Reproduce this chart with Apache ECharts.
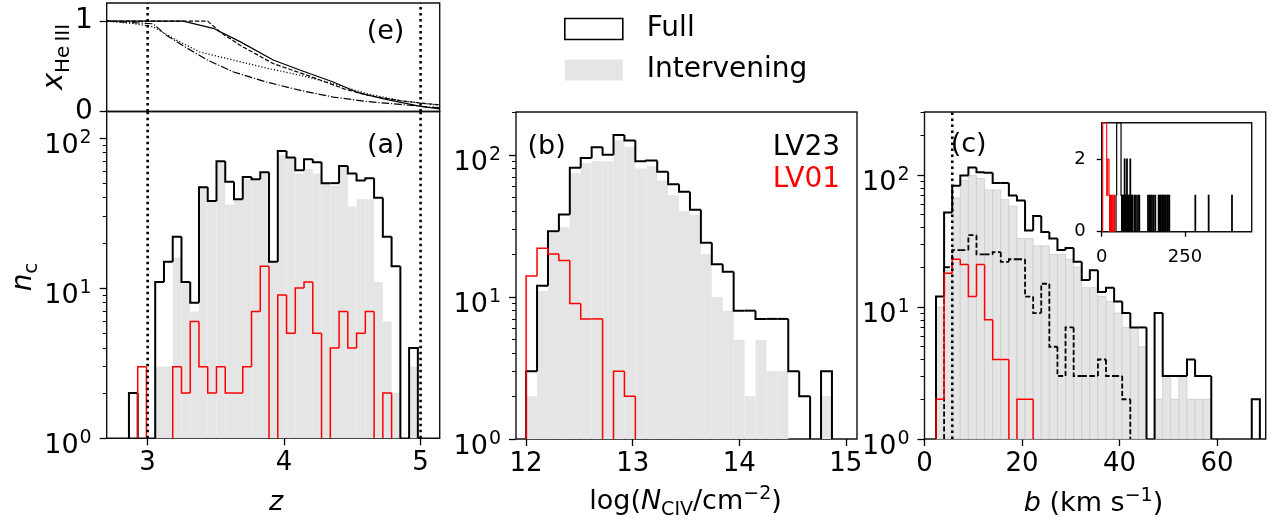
<!DOCTYPE html>
<html>
<head>
<meta charset="utf-8">
<script src="https://cdn.jsdelivr.net/npm/echarts@6/dist/echarts.min.js"></script>
<style>
html, body { margin: 0; padding: 0; background: #fff; }
#chart { width: 1273px; height: 522px; }
</style>
</head>
<body>
<div id="chart"></div>
<script>
// ---- data ----
// (e) He III fraction vs redshift, four models
var eSolidZ = [2.70, 3.26, 3.48, 3.68, 3.92, 4.12, 4.36, 4.53, 4.73, 5.00, 5.14];
var eSolidX = [1.00, 1.00, 0.92, 0.77, 0.57, 0.456, 0.326, 0.215, 0.14, 0.056, 0.03];
var eDashZ = [2.70, 3.44, 3.53, 3.68, 3.92, 4.17, 4.44, 4.61, 4.85, 5.00, 5.14];
var eDashX = [1.00, 1.00, 0.88, 0.73, 0.53, 0.40, 0.25, 0.18, 0.12, 0.093, 0.074];
var eDotZ = [2.70, 2.89, 3.04, 3.21, 3.38, 3.63, 3.87, 4.12, 4.36, 4.61, 4.85, 5.14];
var eDotX = [1.00, 0.974, 0.937, 0.79, 0.66, 0.567, 0.48, 0.40, 0.307, 0.196, 0.12, 0.067];
var eDashDotZ = [2.70, 3.04, 3.14, 3.29, 3.44, 3.63, 3.87, 4.12, 4.36, 4.61, 4.85, 5.14];
var eDashDotX = [1.00, 0.97, 0.84, 0.70, 0.567, 0.437, 0.326, 0.233, 0.16, 0.11, 0.078, 0.04];

// (a) redshift histograms
var zBinStart = 2.863, zBinWidth = 0.06415;
var zFull  = [2,0,0,11,15,22,11,8,47,38,70,51,39,55,53,59,15,82,74,61,72,69,50,50,65,58,52,54,40,22,14,0,4];
var zInter = [0,0,0,3,3,16,11,7,47,38,70,36,39,53,53,59,15,77,74,58,62,58,50,48,65,35,39,39,11,6,2,0,3];
var zLV01  = [0,3,0,0,0,3,2,6,3,2,3,2,2,3,7,14,0,9,5,10,11,5,0,4,7,4,5,7,0,2,0,0,0];
var zMarks = [3, 5];

// (b) column density histograms
var nBinStart = 12.0, nBinWidth = 0.1025;
var nFull  = [3,12,29,38,81,95,113,100,138,126,90,91,76,62,55,41,24,17,15,8,8,7,7,7,3,2,0,3];
var nInter = [2,11,28,31,74,87,90,90,126,114,80,83,66,52,40,38,20,10,8,5,2,5,3,3,0,0,0,2];
var nLV01  = [14,22,20,18,9,7,7,0,3,2,0,0,0,0,0,0,0,0,0,0,0,0,0,0,0,0,0,0];

// (c) Doppler parameter histograms
var bBinStart = 2.36, bBinWidth = 1.661;
var bFull  = [12,52,83,99,114,105,104,87,87,70,64,38,49,37,33,27,28,22,16,19,13,14,11,9,7,7,0,9,3,3,3,4,3,3,0,0,0,0,0,2];
var bInter = [10,19,67,91,99,94,77,77,65,58,33,33,29,29,25,25,23,20,14,14,12,11,9,7,7,5,0,2,3,2,3,2,2,2,0,0,0,0,0,0];
var bLV01  = [2,18,23,21,12,21,8,4,4,0,2,2,0,0,0,0,0,0,0,0,0,0,0,0,0,0,0,0,0,0,0,0,0,0,0,0,0,0,0,0];
var bDash  = [0,20,27,27,35,25,25,26,22,23,23,12,9,15,5,3,7,3,3,3,4,3,3,2,0,0,0,0,0,0,0,0,0,0,0,0,0,0,0,0];
var bMarks = [5.7];

// (d) inset, tail of the b distribution
var dFullLo = [43,45,58,60,63,66,68,70,72,75,78,80,83,85,88,92,98,102,108,112,138,142,146,150,155,160,170,173,176,180,183,186,190,195,198,202,280,320,390];
var dFullHi = [45,58,59.7,61.7,64.7,67.7,69.7,71.7,73.7,76.7,79.7,81.7,84.7,86.7,89.7,93.7,99.7,103.7,109.7,113.7,139.7,143.7,147.7,151.7,156.7,161.7,171.7,174.7,177.7,181.7,184.7,187.7,191.7,196.7,199.7,203.7,281.7,321.7,391.7];
var dFullN  = [1,3,1,1,1,1,2,1,1,2,1,1,1,2,1,1,1,1,1,1,1,1,1,1,1,1,1,1,1,1,1,1,1,1,1,1,1,1,1];
var dLVLo = [3,15,18,22,25,29,33,37];
var dLVHi = [15,18,22,23.7,26.7,30.7,34.7,38.7];
var dLVN  = [3,1,2,1,1,1,1,1];

var minorTicks = [2,3,4,5,6,7,8,9,20,30,40,50,60,70,80,90,200,300];

// ---- helpers ----
var F = 'DejaVu Sans';
var RED = '#ff0000', GRAY = '#e5e5e5';

function bins(start, width, counts) {
  return counts.map(function (c, i) { return [start + i * width, start + (i + 1) * width, c]; });
}
function sparseBins(lo, hi, n) {
  return lo.map(function (v, i) { return [v, hi[i], n[i]]; });
}

function fillSeries(name, xi, yi, data, base, stroke, z) {
  return {
    type: 'custom', name: name, xAxisIndex: xi, yAxisIndex: yi, z: z || 2,
    data: data, encode: { x: [0, 1], y: 2 },
    itemStyle: { color: GRAY },
    renderItem: function (params, api) {
      var n = api.value(2);
      if (!(n > base)) return null;
      var p0 = api.coord([api.value(0), base]);
      var p1 = api.coord([api.value(1), n]);
      return {
        type: 'rect',
        shape: { x: p0[0], y: p1[1], width: p1[0] - p0[0], height: p0[1] - p1[1] },
        style: { fill: GRAY, stroke: stroke || null, lineWidth: stroke ? 0.8 : 0 }
      };
    }
  };
}

function stepSeries(name, xi, yi, data, base, color, width, dash, z) {
  return {
    type: 'custom', name: name, xAxisIndex: xi, yAxisIndex: yi, z: z || 3,
    data: data, encode: { x: [0, 1], y: 2 },
    itemStyle: { color: color },
    renderItem: function (params, api) {
      var i = params.dataIndex, b = data[i];
      var clamp = function (v) { return Math.max(v, base); };
      var prev = (i > 0 && Math.abs(data[i - 1][1] - b[0]) < 1e-6) ? data[i - 1][2] : base;
      var nextAdj = i < data.length - 1 && Math.abs(data[i + 1][0] - b[1]) < 1e-6;
      var pts = [api.coord([b[0], clamp(prev)]), api.coord([b[0], clamp(b[2])])];
      if (b[2] > base) {
        pts.push(api.coord([b[1], clamp(b[2])]));
        if (!nextAdj) pts.push(api.coord([b[1], base]));
      } else if (clamp(prev) <= base) {
        return null;
      }
      return {
        type: 'polyline', shape: { points: pts },
        style: { fill: 'none', stroke: color, lineWidth: width, lineDash: dash || null, lineCap: 'butt', lineJoin: 'miter' }
      };
    }
  };
}

function curve(xs, ys, dash) {
  return {
    type: 'line', xAxisIndex: 0, yAxisIndex: 0, showSymbol: false, symbol: 'none', z: 3,
    data: xs.map(function (x, i) { return [x, ys[i]]; }),
    lineStyle: { color: '#000', width: 1.2, type: dash }
  };
}

function vline(xi, yi, x, y0, y1) {
  return {
    type: 'line', xAxisIndex: xi, yAxisIndex: yi, showSymbol: false, symbol: 'none', z: 6,
    data: [[x, y0], [x, y1]],
    lineStyle: { color: '#000', width: 2.6, type: [2.6, 3.4], cap: 'butt' }
  };
}

var tickStyle = { color: '#000', width: 1.3 };

function xAxisOf(gi, min, max, ticks, fs, z) {
  var has = ticks.length > 0;
  return {
    type: 'value', gridIndex: gi, min: min, max: max, z: z || 0,
    axisLine: { show: false }, splitLine: { show: false },
    axisTick: { show: has, customValues: has ? ticks : undefined, length: fs < 20 ? 5 : 7, lineStyle: tickStyle },
    axisLabel: { show: has, customValues: has ? ticks : undefined, margin: fs < 20 ? 17 : 12,
      fontSize: fs, fontFamily: F, color: '#000' }
  };
}

function yLinOf(gi, min, max, ticks, fs, margin, z) {
  return {
    type: 'value', gridIndex: gi, min: min, max: max, position: 'left', z: z || 0,
    axisLine: { show: false }, splitLine: { show: false },
    axisTick: { customValues: ticks, length: fs < 20 ? 5 : 7, lineStyle: tickStyle },
    axisLabel: { customValues: ticks, margin: margin, fontSize: fs, fontFamily: F, color: '#000' }
  };
}

function yLogMajor(gi, max) {
  return {
    type: 'log', logBase: 10, gridIndex: gi, min: 1, max: max, position: 'left',
    axisLine: { show: false }, splitLine: { show: false },
    axisTick: { customValues: [1, 10, 100], length: 7, lineStyle: tickStyle },
    axisLabel: {
      customValues: [1, 10, 100], margin: 15,
      formatter: function (v) { return '{b|10}{s|' + Math.round(Math.log(v) / Math.LN10) + '}'; },
      rich: {
        b: { fontSize: 27, fontFamily: F, color: '#000', lineHeight: 27, verticalAlign: 'top', padding: [8, 0, 0, 0] },
        s: { fontSize: 19, fontFamily: F, color: '#000', lineHeight: 19, verticalAlign: 'top', padding: [4, 0, 0, 1] }
      }
    }
  };
}

function yLogMinor(gi, max) {
  return {
    type: 'log', logBase: 10, gridIndex: gi, min: 1, max: max, position: 'left',
    axisLine: { show: false }, splitLine: { show: false },
    axisTick: { customValues: minorTicks.filter(function (v) { return v <= max; }), length: 4, lineStyle: { color: '#000', width: 1 } },
    axisLabel: { show: false }
  };
}

// text with sub/superscripts, laid out piece by piece on a common baseline
var mctx = document.createElement('canvas').getContext('2d');
function fontOf(p) { return (p.it ? 'italic ' : '') + p.s + 'px "' + F + '"'; }
function mathText(pieces, x, baseY, align, rot, color) {
  var total = 0;
  pieces.forEach(function (p) {
    mctx.font = fontOf(p);
    mctx.textBaseline = 'middle';
    p.w = mctx.measureText(p.t).width;
    p.mid = mctx.measureText('H').actualBoundingBoxDescent; // middle -> alphabetic baseline
    total += p.w;
  });
  var cx = align === 'center' ? -total / 2 : 0;
  var kids = pieces.map(function (p) {
    var el = {
      type: 'text', x: cx, y: (p.dy || 0) - p.mid,
      style: { text: p.t, font: fontOf(p), fill: color || '#000', align: 'left', verticalAlign: 'middle' }
    };
    cx += p.w;
    return el;
  });
  return { type: 'group', x: x, y: baseY, rotation: rot || 0, z: 20, children: kids };
}

var grids = [
  { left: 106.7, top: 3, width: 333, height: 108.5 },
  { left: 106.7, top: 111.5, width: 333, height: 326.8 },
  { left: 516, top: 112, width: 341, height: 327 },
  { left: 924.5, top: 112, width: 341.2, height: 327 },
  { left: 1101.7, top: 122.7, width: 150, height: 109, z: 10, backgroundColor: '#fff' }
].map(function (g) {
  return Object.assign({ show: true, borderColor: '#111', borderWidth: 1.4, containLabel: false, outerBoundsMode: 'none' }, g);
});

var series = [
  curve(eSolidZ, eSolidX, 'solid'),
  curve(eDashZ, eDashX, [4.4, 1.9]),
  curve(eDotZ, eDotX, [1.2, 2]),
  curve(eDashDotZ, eDashDotX, [7.7, 1.9, 1.2, 1.9]),

  fillSeries('Intervening', 1, 1, bins(zBinStart, zBinWidth, zInter), 1),
  stepSeries('Full', 1, 1, bins(zBinStart, zBinWidth, zFull), 1, '#000', 2, null, 3),
  stepSeries('LV01 a', 1, 1, bins(zBinStart, zBinWidth, zLV01), 1, RED, 1.5, null, 4),

  fillSeries('Intervening', 2, 3, bins(nBinStart, nBinWidth, nInter), 1),
  stepSeries('Full', 2, 3, bins(nBinStart, nBinWidth, nFull), 1, '#000', 2, null, 3),
  stepSeries('LV01 b', 2, 3, bins(nBinStart, nBinWidth, nLV01), 1, RED, 1.5, null, 4),

  fillSeries('Intervening', 3, 5, bins(bBinStart, bBinWidth, bInter), 1, '#cdcdcd'),
  stepSeries('Full', 3, 5, bins(bBinStart, bBinWidth, bFull), 1, '#000', 2, null, 3),
  stepSeries('subset c', 3, 5, bins(bBinStart, bBinWidth, bDash), 1, '#000', 1.8, [5, 2.5], 3),
  stepSeries('LV01 c', 3, 5, bins(bBinStart, bBinWidth, bLV01), 1, RED, 1.5, null, 4),

  stepSeries('inset full', 4, 7, sparseBins(dFullLo, dFullHi, dFullN), 0, '#000', 1.2, null, 12),
  stepSeries('inset LV01', 4, 7, sparseBins(dLVLo, dLVHi, dLVN), 0, RED, 1.1, null, 13)
];
zMarks.forEach(function (m) {
  series.push(vline(0, 0, m, 0, 1.2));
  series.push(vline(1, 1, m, 1, 150));
});
bMarks.forEach(function (m) { series.push(vline(3, 5, m, 1, 300)); });

var option = {
  animation: false,
  backgroundColor: '#fff',
  grid: grids,
  xAxis: [
    xAxisOf(0, 2.7, 5.14, [], 0),
    xAxisOf(1, 2.7, 5.14, [3, 4, 5], 26),
    xAxisOf(2, 11.905, 15.105, [12, 13, 14, 15], 26),
    xAxisOf(3, 0, 70, [0, 20, 40, 60], 26),
    xAxisOf(4, 0, 450, [0, 250], 18, 11)
  ],
  yAxis: [
    yLinOf(0, 0, 1.2, [0, 1], 28, 14),
    yLogMajor(1, 150), yLogMinor(1, 150),
    yLogMajor(2, 200), yLogMinor(2, 200),
    yLogMajor(3, 300), yLogMinor(3, 300),
    yLinOf(4, 0, 3, [0, 2], 18, 16, 11)
  ],
  legend: {
    left: 564, top: 15, orient: 'vertical', padding: 0,
    itemWidth: 58, itemHeight: 21, itemGap: 13,
    selectedMode: false,
    textStyle: { fontSize: 28, fontFamily: F, color: '#000', lineHeight: 21, padding: [0, 0, 0, 19] },
    data: [
      { name: 'Full', icon: 'rect', itemStyle: { color: '#fff', borderColor: '#000', borderWidth: 1.6 } },
      { name: 'Intervening', icon: 'rect', itemStyle: { color: GRAY, borderWidth: 0 } }
    ]
  },
  graphic: [
    mathText([{ t: 'z', s: 27, it: true }], 276, 510, 'center'),
    mathText([{ t: 'log(', s: 27 }, { t: 'N', s: 27, it: true }, { t: 'CIV', s: 19, dy: 6.5 },
      { t: '/cm', s: 27 }, { t: '\u22122', s: 19, dy: -10 }, { t: ')', s: 27 }], 685.5, 508.5, 'center'),
    mathText([{ t: 'b', s: 27, it: true }, { t: ' (km s', s: 27 }, { t: '\u22121', s: 19, dy: -10 }, { t: ')', s: 27 }], 1093.5, 510.5, 'center'),
    mathText([{ t: 'n', s: 28, it: true }, { t: 'c', s: 20, dy: 6 }], 31, 277, 'center', Math.PI / 2),
    mathText([{ t: 'x', s: 29, it: true }, { t: 'He\u2009III', s: 20, dy: 6.5 }], 62, 57, 'center', Math.PI / 2),
    mathText([{ t: '(e)', s: 27 }], 366.7, 38.7, 'left'),
    mathText([{ t: '(a)', s: 27 }], 367, 152.7, 'left'),
    mathText([{ t: '(b)', s: 27 }], 527.5, 153.7, 'left'),
    mathText([{ t: '(c)', s: 27 }], 950.7, 151.7, 'left'),
    mathText([{ t: '(d)', s: 27 }], 1212.7, 148.7, 'left'),
    mathText([{ t: 'LV23', s: 28 }], 772.7, 155, 'left'),
    mathText([{ t: 'LV01', s: 28 }], 772.7, 186.7, 'left', 0, RED)
  ],
  series: series
};

var chart = echarts.init(document.getElementById('chart'));
chart.setOption(option);
</script>
</body>
</html>
